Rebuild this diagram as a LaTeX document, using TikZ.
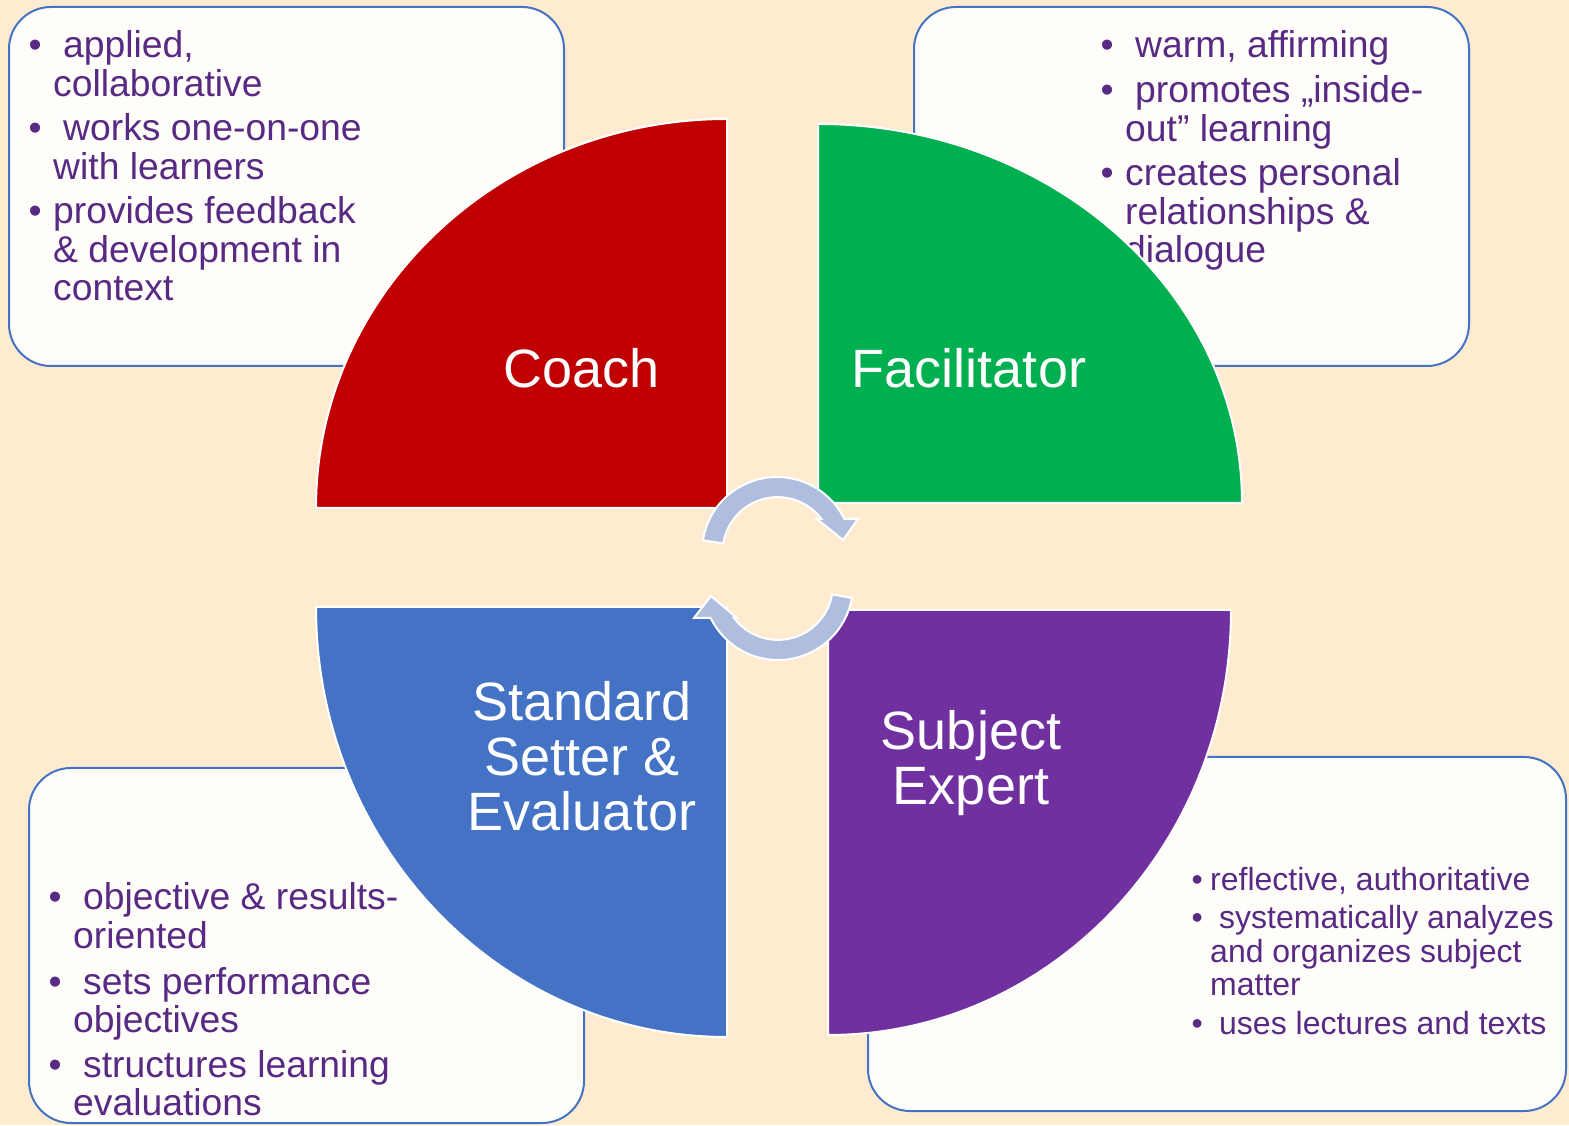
\documentclass[tikz,border=0pt]{standalone}
\usepackage{fontspec}
\setmainfont{Liberation Sans}

\definecolor{bg}{HTML}{FFEBD0}
\definecolor{boxfill}{HTML}{FFFDF9}
\definecolor{boxline}{HTML}{4472C4}
\definecolor{txt}{HTML}{582A84}
\definecolor{coachred}{HTML}{C00000}
\definecolor{facgreen}{HTML}{00B050}
\definecolor{stdblue}{HTML}{4472C4}
\definecolor{subpurple}{HTML}{7030A0}
\definecolor{cyclefill}{HTML}{AFBDDF}

% bullet, then the item's lines in one column; #2 pads the first line only
\newcommand\roleitem[3]{\makebox[#1][l]{\textbullet}\begin{tabular}[t]{@{}l@{}}\hspace*{#2}#3\end{tabular}}

\tikzset{
  infobox/.style={draw=boxline, line width=2pt, fill=boxfill, rounded corners=42pt, inner sep=0pt},
  itemtext/.style={anchor=base west, inner sep=0pt, text=txt, font=\fontsize{37.3}{38}\selectfont},
  smalltext/.style={itemtext, font=\fontsize{32}{33.5}\selectfont},
  sector/.style={draw=white, line width=2pt},
  rolelabel/.style={text=white, inner sep=0pt, align=center, font=\fontsize{54}{55}\selectfont},
  cyclearrow/.style={fill=cyclefill, draw=white, line width=2pt, line join=miter}
}

\begin{document}
\begin{tikzpicture}[x=1pt, y=1pt]
\useasboundingbox (0,0) rectangle (1569,1125);
\fill[bg] (0,0) rectangle (1569,1125);

% description boxes
\node[infobox, minimum width=555pt, minimum height=359pt] (boxCoach) at (286.5,938.5) {};
\node[infobox, minimum width=555pt, minimum height=359pt] (boxFac) at (1191.5,938.5) {};
\node[infobox, minimum width=555pt, minimum height=355pt] (boxStd) at (306.5,179.5) {};
\node[infobox, minimum width=698pt, minimum height=354pt] (boxSub) at (1217,191) {};

% Coach
\node[itemtext] (c1) at (28.5,1067) {\roleitem{24.5pt}{10pt}{applied,\\collaborative}};
\node[itemtext] (c2) at (28.5,984) {\roleitem{24.5pt}{10pt}{works one-on-one\\with learners}};
\node[itemtext] (c3) at (28.5,901) {\roleitem{24.5pt}{0pt}{provides feedback\\\& development in\\context}};

% Facilitator
\node[itemtext] (f1) at (1100.5,1067) {\roleitem{24.5pt}{10pt}{warm, affirming}};
\node[itemtext] (f2) at (1100.5,1022) {\roleitem{24.5pt}{10pt}{promotes „inside-\\out” learning}};
\node[itemtext] (f3) at (1100.5,939) {\roleitem{24.5pt}{0pt}{creates personal\\relationships \&\\dialogue}};

% Standard Setter & Evaluator
\node[itemtext] (s1) at (48.5,215) {\roleitem{24.5pt}{10pt}{objective \& results-\\oriented}};
\node[itemtext] (s2) at (48.5,131) {\roleitem{24.5pt}{10pt}{sets performance\\objectives}};
\node[itemtext] (s3) at (48.5,48) {\roleitem{24.5pt}{10pt}{structures learning\\evaluations}};

% Subject Expert
\node[smalltext] (e1) at (1191.4,234) {\roleitem{18.6pt}{0pt}{reflective, authoritative}};
\node[smalltext] (e2) at (1191.4,196) {\roleitem{18.6pt}{9pt}{systematically analyzes\\and organizes subject\\matter}};
\node[smalltext] (e3) at (1191.4,91) {\roleitem{18.6pt}{9pt}{uses lectures and texts}};

% the four quarter sectors
\path[sector, fill=coachred] (727,617) -- (727,1006)
  arc[start angle=90, end angle=180, x radius=411pt, y radius=389pt] -- cycle;
\path[sector, fill=facgreen] (818,622) -- (818,1001)
  arc[start angle=90, end angle=0, x radius=424pt, y radius=379pt] -- cycle;
\path[sector, fill=stdblue] (727,518) -- (316,518)
  arc[start angle=180, end angle=270, x radius=411pt, y radius=430pt] -- cycle;
\path[sector, fill=subpurple] (828,515) -- (1231,515)
  arc[start angle=0, end angle=-90, x radius=403pt, y radius=425pt] -- cycle;

% role names
\node[rolelabel, anchor=base] (coach) at (582,737) {Coach};
\node[rolelabel, anchor=base] (facilitator) at (969,737) {Facilitator};
\node[rolelabel] (standard) at (582,369) {Standard\\Setter \&\\Evaluator};
\node[rolelabel] (subject) at (971,361.5) {Subject\\Expert};

% circular arrows in the middle
\coordinate (topc) at (777,573);
\coordinate (botc) at (778,540);
\path[cyclearrow] (topc) ++(171:75pt)
  arc[start angle=171, end angle=26, radius=75pt]
  -- (858,606) -- (843,585) -- (817,606) -- (821.5,606)
  arc[start angle=37, end angle=171, radius=55pt] -- cycle;
\path[cyclearrow] (botc) ++(-10:75pt)
  arc[start angle=-10, end angle=-154, radius=75pt]
  -- (694,507) -- (711,529) -- (737,507) -- (734,507)
  arc[start angle=-143, end angle=-10, radius=55pt] -- cycle;
\end{tikzpicture}
\end{document}
